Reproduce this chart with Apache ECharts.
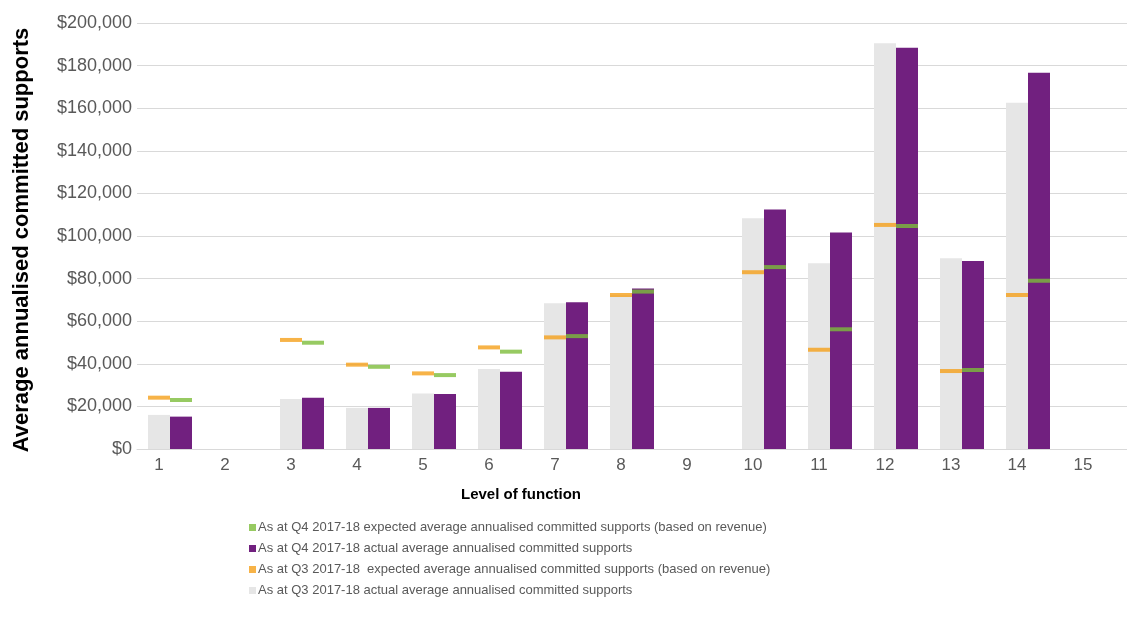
<!DOCTYPE html>
<html>
<head>
<meta charset="utf-8">
<script src="https://cdn.jsdelivr.net/npm/echarts@6/dist/echarts.min.js"></script>
<style>html,body{margin:0;padding:0;background:#fff;}#c{width:1127px;height:617px;}</style>
</head>
<body>
<div id="c"></div>
<script>
const categories = ['1','2','3','4','5','6','7','8','9','10','11','12','13','14','15'];
const q3Actual   = [16000, null, 23500, 19300, 26100, 37600, 68400, 72300, null, 108300, 87200, 190500, 89500, 162600, null];
const q4Actual   = [15200, null, 24100, 19300, 25800, 36300, 68900, 75400, null, 112500, 101700, 188400, 88300, 176700, null];
const q3Expected = [24100, null, 51200, 39600, 35500, 47700, 52400, 72300, null, 83000, 46600, 105200, 36600, 72300, null];
const q4Expected = [23000, null, 49900, 38600, 34700, 45700, 53000, 73900, null, 85400, 56200, 104700, 37100, 79000, null];
const yTicks = [0, 20000, 40000, 60000, 80000, 100000, 120000, 140000, 160000, 180000, 200000];
const seriesNames = [
  'As at Q4 2017-18 expected average annualised committed supports (based on revenue)',
  'As at Q4 2017-18 actual average annualised committed supports',
  'As at Q3 2017-18  expected average annualised committed supports (based on revenue)',
  'As at Q3 2017-18 actual average annualised committed supports'
];

const chart = echarts.init(document.getElementById('c'));
const reg = "'Liberation Sans', Arial, sans-serif";
chart.setOption({
  animation: false,
  backgroundColor: '#ffffff',
  grid: { left: 137, top: 23, width: 992, bottom: 168, containLabel: false },
  xAxis: {
    type: 'category',
    data: categories,
    axisLine: { lineStyle: { color: '#d9d9d9' } },
    axisTick: { show: false },
    axisLabel: { color: '#595959', fontSize: 17, fontFamily: reg, margin: 8, padding: [0, 22, 0, 0] }
  },
  yAxis: {
    type: 'value',
    min: yTicks[0], max: yTicks[yTicks.length - 1], interval: yTicks[1] - yTicks[0],
    axisLine: { show: false }, axisTick: { show: false },
    splitLine: { lineStyle: { color: '#d9d9d9' } },
    axisLabel: { color: '#595959', fontSize: 18, fontFamily: reg, margin: 5,
      formatter: v => '$' + v.toLocaleString('en-US') }
  },
  legend: {
    orient: 'vertical', left: 244, top: 516, itemGap: 8,
    itemWidth: 7, itemHeight: 7, icon: 'rect',
    data: seriesNames,
    textStyle: { color: '#595959', fontSize: 13, fontFamily: reg, padding: [0, 0, 0, -3] }
  },
  graphic: [
    { type: 'text', x: 22, y: 240, rotation: Math.PI / 2,
      style: { text: 'Average annualised committed supports', fill: '#000', font: "bold 22px " + reg, textAlign: 'center', textVerticalAlign: 'middle' } },
    { type: 'text', x: 521, y: 495,
      style: { text: 'Level of function', fill: '#000', font: "bold 15px " + reg, textAlign: 'center', textVerticalAlign: 'middle' } }
  ],
  series: [
    { name: seriesNames[3], type: 'bar', data: q3Actual, barWidth: 22, barGap: '0%', itemStyle: { color: '#e6e6e6' }, z: 2 },
    { name: seriesNames[1], type: 'bar', data: q4Actual, barWidth: 22, barGap: '0%', itemStyle: { color: '#71207f' }, z: 2 },
    { name: seriesNames[2], type: 'scatter', data: q3Expected, symbol: 'rect', symbolSize: [22, 4], symbolOffset: [-11, 0], itemStyle: { color: '#f5a01a' }, z: 3 },
    { name: seriesNames[0], type: 'scatter', data: q4Expected, symbol: 'rect', symbolSize: [22, 4], symbolOffset: [11, 0], itemStyle: { color: '#7dbd3b' }, z: 3 }
  ]
});
</script>
</body>
</html>
